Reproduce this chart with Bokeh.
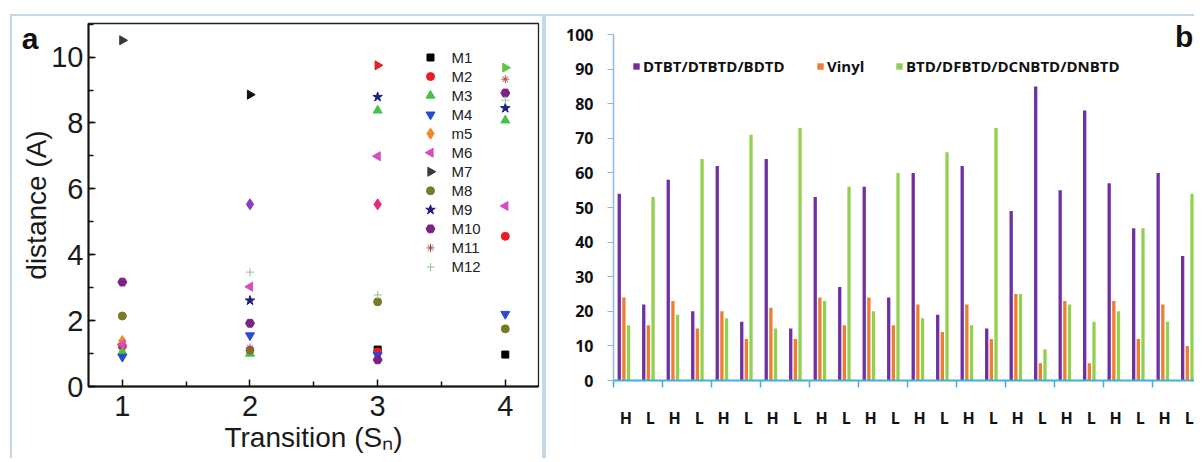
import math
from bokeh.plotting import figure
from bokeh.models import (ColumnDataSource, Legend, LegendItem, LinearAxis,
                          FixedTicker, SingleIntervalTicker, Range1d)
from bokeh.layouts import row
from bokeh.embed import file_html
from bokeh.resources import INLINE
from bokeh.core.properties import value

nan = float("nan")

# ---------------- panel a data ----------------
transitions = [1, 2, 3, 4]
series_names = ["M1", "M2", "M3", "M4", "m5", "M6", "M7", "M8", "M9", "M10", "M11", "M12"]
M1 = [nan, nan, 1.12, 0.97]
M2 = [1.22, nan, 1.05, 4.56]
M3 = [1.05, 1.00, 8.38, 8.08]
M4 = [0.90, 1.55, 0.95, 2.20]
m5 = [1.38, 5.53, 5.53, nan]
M6 = [1.28, 3.03, 6.99, 5.48]
M7 = [10.51, 8.86, 9.75, 9.68]
M8 = [2.14, 1.10, 2.57, 1.75]
M9 = [nan, 2.61, 8.79, 8.45]
M10 = [3.17, 1.92, 0.81, 8.91]
M11 = [nan, 1.18, nan, 9.33]
M12 = [nan, 3.47, 2.78, 8.69]
series_values = [M1, M2, M3, M4, m5, M6, M7, M8, M9, M10, M11, M12]

# ---------------- panel b data ----------------
hl_labels = ["H", "L"] * 12
legend_b = ["DTBT/DTBTD/BDTD", "Vinyl", "BTD/DFBTD/DCNBTD/DNBTD"]
dtbt = [54, 22, 58, 20, 62, 17, 64, 15, 53, 27, 56, 24, 60, 19, 62, 15, 49, 85, 55, 78, 57, 44, 60, 36]
vinyl = [24, 16, 23, 15, 20, 12, 21, 12, 24, 16, 24, 16, 22, 14, 22, 12, 25, 5, 23, 5, 23, 12, 22, 10]
btd = [16, 53, 19, 64, 18, 71, 15, 73, 23, 56, 20, 60, 18, 66, 16, 73, 25, 9, 22, 17, 20, 44, 17, 54]

# ---------------- styles ----------------
PANEL_BORDER = "2px solid #c4d8e8"
FONT_A = "Liberation Sans"
FONT_B = "Open Sans"

marker_style = {
    "M1": ("square", "#000000", 7, 0.0),
    "M2": ("circle", "#ec1c24", 8, 0.0),
    "M3": ("triangle", "#45c24a", 9, 0.0),
    "M4": ("inverted_triangle", "#2a48d6", 9, 0.0),
    "m5": ("diamond", "#ef8a24", 11, 0.0),
    "M6": ("triangle", "#d24fc2", 9, math.pi / 2),
    "M7": ("triangle", "#383838", 9, -math.pi / 2),
    "M8": ("circle", "#7a7a28", 8, 0.0),
    "M9": ("star", "#1f1f80", 10, 0.0),
    "M10": ("hex", "#7e2187", 9, 0.0),
    "M11": ("asterisk", "#a84848", 8, 0.0),
    "M12": ("cross", "#8fc68f", 8, 0.0),
}
color_override = {
    ("M7", 1): "#111111",
    ("M7", 2): "#e3202a",
    ("M7", 3): "#5cc84a",
    ("m5", 1): "#8a3cc8",
    ("m5", 2): "#e6287e",
}


def tag_axis(pos, text, standoff):
    """Label-only axis used for the panel tags (annotations get clipped to the frame)."""
    return LinearAxis(ticker=FixedTicker(ticks=[pos]), major_label_overrides={pos: text},
                      axis_line_color=None, major_tick_line_color=None,
                      minor_tick_line_color=None, major_tick_out=0, major_tick_in=0,
                      major_label_standoff=standoff,
                      major_label_text_font=FONT_A, major_label_text_font_size="30px",
                      major_label_text_font_style="bold", major_label_text_color="#111111")


# ================= panel a =================
A_W, A_H = 534, 444
A_BL, A_BR, A_BT, A_BB = 76, 8, 7, 74
AX0, AX1, AY0, AY1 = 0.735, 4.26, 0.0, 11.02
pa = figure(width=A_W, height=A_H, x_range=Range1d(AX0, AX1), y_range=Range1d(AY0, AY1),
            output_backend="svg", toolbar_location=None, frame_align=False,
            min_border_left=A_BL, min_border_right=A_BR, min_border_top=A_BT, min_border_bottom=A_BB)
pa.margin = (14, 0, 0, 10)
pa.styles = {"border-top": PANEL_BORDER, "border-left": PANEL_BORDER, "border-right": PANEL_BORDER}
pa.xgrid.visible = False
pa.ygrid.visible = False
pa.outline_line_color = "#222222"
pa.outline_line_width = 1.3
pa.background_fill_color = "white"
pa.border_fill_color = "white"

for name, vals in zip(series_names, series_values):
    marker, base_col, size, ang = marker_style[name]
    groups = {}
    for i, (xv, yv) in enumerate(zip(transitions, vals)):
        if yv != yv:
            continue
        col = color_override.get((name, i), base_col)
        groups.setdefault(col, ([], []))
        groups[col][0].append(xv)
        groups[col][1].append(yv)
    for col, (xs, ys) in groups.items():
        src = ColumnDataSource(dict(x=xs, y=ys))
        pa.scatter("x", "y", source=src, marker=marker, size=size, angle=ang,
                   fill_color=col, line_color=col, line_width=1)

# manual legend (keeps rotated triangles), placed by frame pixel geometry
fw = A_W - A_BL - A_BR
fh = A_H - A_BT - A_BB
ppx = fw / (AX1 - AX0)
ppy = fh / (AY1 - AY0)
LEG_MARK_PX, LEG_TEXT_PX = 342, 363     # from frame left
LEG_TOP_PX, LEG_ROW_PX = 34, 19.04      # from frame top
leg_x_mark = AX0 + LEG_MARK_PX / ppx
leg_x_text = AX0 + LEG_TEXT_PX / ppx
for k, name in enumerate(series_names):
    marker, base_col, size, ang = marker_style[name]
    yy = AY1 - (LEG_TOP_PX + k * LEG_ROW_PX) / ppy
    pa.scatter([leg_x_mark], [yy], marker=marker, size=size, angle=ang,
               fill_color=base_col, line_color=base_col, line_width=1)
    pa.text([leg_x_text], [yy], text=[name], text_font=value(FONT_A), text_font_size="15px",
            text_color="#222222", text_baseline="middle", text_align="left")

for ax in (pa.xaxis[0], pa.yaxis[0]):
    ax.axis_line_color = "#111111"
    ax.axis_line_width = 2
    ax.major_tick_line_color = "#111111"
    ax.minor_tick_line_color = "#111111"
    ax.major_tick_line_width = 1.5
    ax.minor_tick_line_width = 1.5
    ax.major_tick_in = 7
    ax.major_tick_out = 0
    ax.minor_tick_in = 5
    ax.minor_tick_out = 0
    ax.major_label_text_font = FONT_A
    ax.major_label_text_font_size = "29px"
    ax.major_label_text_color = "#1a1a1a"
    ax.axis_label_text_font = FONT_A
    ax.axis_label_text_font_size = "28px"
    ax.axis_label_text_font_style = "normal"
    ax.axis_label_text_color = "#1a1a1a"

pa.yaxis.ticker = SingleIntervalTicker(interval=2, num_minor_ticks=2)
pa.xaxis.ticker = FixedTicker(ticks=[1, 2, 3, 4], minor_ticks=[1.5, 2.5, 3.5])
pa.yaxis.major_label_standoff = 5
pa.xaxis.major_label_standoff = 9
pa.yaxis.axis_label = "distance (A)"
pa.xaxis.axis_label = "Transition (S\u2099)"
pa.yaxis.axis_label_standoff = -4
pa.xaxis.axis_label_standoff = 3

pa.add_layout(tag_axis(10.57, "a", -20), "left")

# ================= panel b =================
n_cat = len(hl_labels)
centers = [i + 0.5 for i in range(n_cat)]
offsets = [-0.265, -0.075, 0.115]
bar_colors = ["#7030a0", "#ed7d31", "#92d050"]
bar_w = 0.135

pb = figure(width=650, height=444, x_range=Range1d(0, 23.8), y_range=Range1d(0, 100),
            output_backend="svg", toolbar_location=None, frame_align=False,
            min_border_left=67, min_border_right=0, min_border_top=17, min_border_bottom=80)
pb.margin = (14, 0, 0, 0)
pb.styles = {"border-top": PANEL_BORDER, "border-left": PANEL_BORDER}
pb.xgrid.visible = False
pb.ygrid.visible = False
pb.outline_line_color = None

bar_renderers = []
for vals, off, col in zip([dtbt, vinyl, btd], offsets, bar_colors):
    src = ColumnDataSource(dict(x=[c + off for c in centers], top=vals))
    r = pb.vbar(x="x", top="top", bottom=0, width=bar_w, source=src,
                fill_color=col, line_color=None)
    bar_renderers.append(r)

for lab, r, lx in zip(legend_b, bar_renderers, [19, 203, 282]):
    lg = Legend(items=[LegendItem(label=lab, renderers=[r])], location=(lx, 304),
                glyph_width=8, glyph_height=8, label_height=16, label_standoff=3,
                padding=0, margin=0, border_line_color=None, background_fill_alpha=0,
                label_text_font=FONT_B, label_text_font_size="15px",
                label_text_font_style="bold", label_text_color="#111111")
    pb.add_layout(lg, "center")

ya = pb.yaxis[0]
ya.ticker = SingleIntervalTicker(interval=10, num_minor_ticks=0)
ya.axis_line_color = "#8fb8e0"
ya.axis_line_width = 1.5
ya.major_tick_line_color = "#8fb8e0"
ya.major_tick_in = 0
ya.major_tick_out = 6
ya.minor_tick_line_color = None
ya.major_label_standoff = 14
ya.major_label_text_font = FONT_B
ya.major_label_text_font_style = "bold"
ya.major_label_text_font_size = "16px"
ya.major_label_text_color = "#111111"

xa = pb.xaxis[0]
xa.ticker = FixedTicker(ticks=centers, minor_ticks=[2 * k for k in range(13)])
xa.major_label_overrides = {c: lab for c, lab in zip(centers, hl_labels)}
xa.axis_line_color = "#45ace2"
xa.axis_line_width = 2
xa.major_tick_line_color = None
xa.major_tick_in = 0
xa.major_tick_out = 0
xa.minor_tick_line_color = "#45ace2"
xa.minor_tick_line_width = 1.5
xa.minor_tick_in = 0
xa.minor_tick_out = 7
xa.major_label_standoff = 19
xa.major_label_text_font = FONT_B
xa.major_label_text_font_style = "bold"
xa.major_label_text_font_size = "16px"
xa.major_label_text_color = "#111111"

pb.add_layout(tag_axis(23.39, "b", -18), "above")

layout = row(pa, pb)
open("out.html", "w").write(file_html(layout, INLINE))
